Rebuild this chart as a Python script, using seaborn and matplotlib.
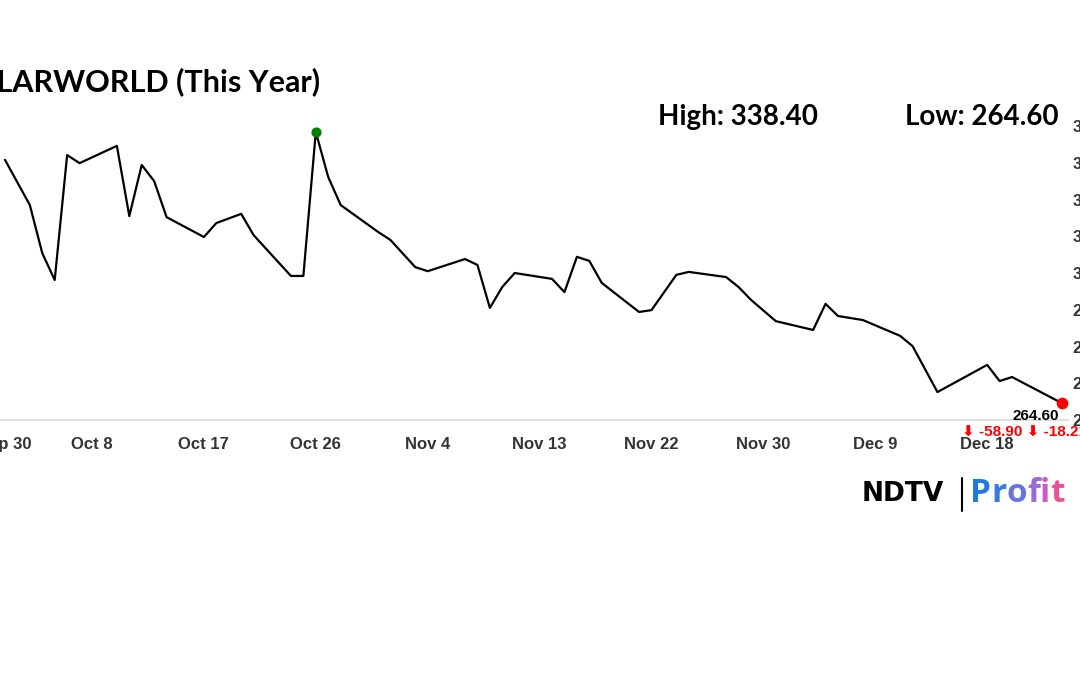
import matplotlib
matplotlib.use("Agg")
import matplotlib.pyplot as plt
import seaborn as sns
import pandas as pd

day_index = [0, 2, 3, 4, 5, 6, 9, 10, 11, 12, 13, 16, 17, 19, 20, 23, 24, 25, 26, 27,
             30, 31, 33, 34, 37, 38, 39, 40, 41, 44, 45, 46, 47, 48, 51, 52, 54, 55, 58,
             59, 60, 62, 65, 66, 67, 69, 72, 73, 75, 79, 80, 81, 85]
price = [330.8, 318.5, 305.4, 298.1, 332.1, 329.9, 334.6, 315.5, 329.4, 325.0, 315.2,
         309.8, 313.6, 316.1, 310.3, 299.2, 299.2, 338.4, 326.1, 318.5,
         311.2, 309.0, 301.6, 300.5, 303.8, 302.2, 290.5, 296.2, 300.0, 298.4, 294.8,
         304.4, 303.3, 297.3, 289.4, 289.9, 299.5, 300.3, 298.9,
         296.2, 292.7, 286.9, 284.5, 291.6, 288.3, 287.2, 282.9, 280.1, 267.6, 275.0,
         270.6, 271.7, 264.6]
tick_pos = [0, 7, 16, 25, 34, 43, 52, 61, 70, 79]
tick_labels = ["Sep 30", "Oct 8", "Oct 17", "Oct 26", "Nov 4", "Nov 13", "Nov 22",
               "Nov 30", "Dec 9", "Dec 18"]
y_ticks = [260, 270, 280, 290, 300, 310, 320, 330, 340]

df = pd.DataFrame({"day": day_index, "price": price})

sns.set_theme(style="white")
plt.rcParams["font.family"] = ["Liberation Sans", "DejaVu Sans"]

fig = plt.figure(figsize=(10.8, 6.75), dpi=100)
W, H = 1080, 675
ax = fig.add_axes([0.0, 1 - 420 / H, 1068 / W, (420 - 115) / H])
sns.lineplot(data=df, x="day", y="price", ax=ax, color="black", linewidth=1.6)

hi = df.loc[df.price.idxmax()]
lo = df.iloc[-1]
ax.scatter([hi.day], [hi.price], color="green", s=40, zorder=5)
ax.scatter([lo.day], [lo.price], color="red", s=55, zorder=5)

ax.set_xlim(-0.4, 85.5)
ax.set_ylim(260, 343)
ax.set_xticks(tick_pos)
ax.set_xticklabels(tick_labels, fontsize=12, fontweight="bold", color="#333333")
ax.set_yticks(y_ticks)
ax.set_yticklabels([str(v) for v in y_ticks], fontsize=12, fontweight="bold", color="#333333")
ax.yaxis.tick_right()
ax.tick_params(axis="y", length=0, pad=3)
ax.tick_params(axis="x", length=6, color="#dddddd", pad=6)
ax.set_xlabel("")
ax.set_ylabel("")
for s in ["top", "left", "right"]:
    ax.spines[s].set_visible(False)
ax.spines["bottom"].set_color("#dddddd")

def fx(px):
    return px / W

def fy(py):
    return 1 - py / H

title_font = ["Lato", "DejaVu Sans"]
fig.text(fx(320), fy(82), "SOLARWORLD (This Year)", ha="right", va="center",
         fontsize=22, fontweight="bold", family=title_font, color="black")
fig.text(fx(738), fy(117), "High: 338.40", ha="center", va="center",
         fontsize=20, fontweight="bold", family=title_font, color="black")
fig.text(fx(982), fy(117), "Low: 264.60", ha="center", va="center",
         fontsize=20, fontweight="bold", family=title_font, color="black")
fig.text(fx(1036), fy(416), f"{lo.price:.2f}", ha="center", va="center",
         fontsize=11, fontweight="bold", color="black")
fig.text(fx(962), fy(433), "⬇ -58.90 ⬇ -18.21%", ha="left", va="center",
         fontsize=11, fontweight="bold", color="red", family=["Liberation Sans", "DejaVu Sans"])

fig.text(fx(862), fy(494), "NDTV", ha="left", va="center", fontsize=19,
         fontweight="heavy", family=["DejaVu Sans"], color="black")
fig.lines.append(plt.Line2D([fx(962), fx(962)], [fy(478), fy(511)], transform=fig.transFigure,
                            color="black", linewidth=1.5))
letters = "Profit"
colors = ["#1f7ae0", "#3a7ae0", "#6a74e0", "#9a6ad8", "#c85cc8", "#e8509a"]
renderer = fig.canvas.get_renderer()
x = 970
for ch, c in zip(letters, colors):
    t = fig.text(fx(x), fy(494), ch, ha="left", va="center", fontsize=24,
                 fontweight="bold", color=c, family=["Open Sans", "DejaVu Sans"])
    x += t.get_window_extent(renderer).width

fig.savefig("out.png", dpi=100)
